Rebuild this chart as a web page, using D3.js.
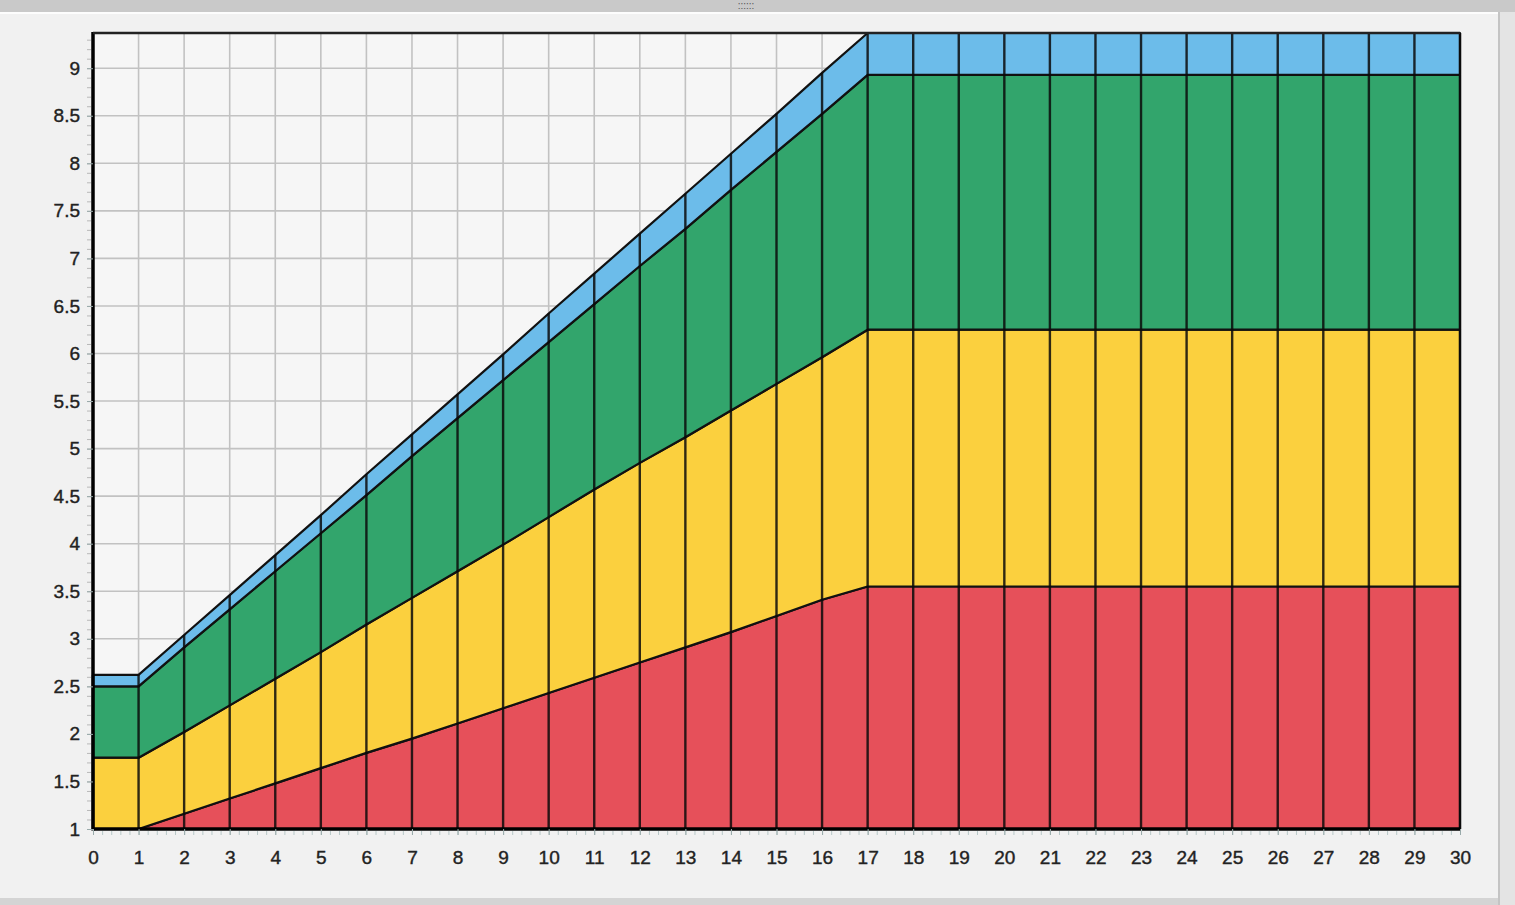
<!DOCTYPE html>
<html>
<head>
<meta charset="utf-8">
<script src="https://cdn.jsdelivr.net/npm/d3@7"></script>
<style>
  html, body { margin: 0; padding: 0; background: #f0f0f0; }
  svg { display: block; }
</style>
</head>
<body>
<div id="chart"></div>
<script>
// x positions 0..30
const xs = d3.range(0, 31);
const base = 1;

// layer thicknesses (x = 0..17, flat afterwards)
const red    = [0, 0, .16, .32, .48, .64, .80, .95, 1.11, 1.27, 1.43, 1.59, 1.75, 1.91, 2.07, 2.24, 2.41, 2.55,
                2.55, 2.55, 2.55, 2.55, 2.55, 2.55, 2.55, 2.55, 2.55, 2.55, 2.55, 2.55, 2.55];
const yellow = [.75, .75, .86, .98, 1.10, 1.22, 1.35, 1.48, 1.60, 1.72, 1.85, 1.98, 2.10, 2.21, 2.33, 2.44, 2.55, 2.70,
                2.70, 2.70, 2.70, 2.70, 2.70, 2.70, 2.70, 2.70, 2.70, 2.70, 2.70, 2.70, 2.70];
const green  = [.75, .75, .89, 1.01, 1.13, 1.25, 1.36, 1.49, 1.61, 1.73, 1.84, 1.95, 2.07, 2.19, 2.32, 2.44, 2.56, 2.68,
                2.68, 2.68, 2.68, 2.68, 2.68, 2.68, 2.68, 2.68, 2.68, 2.68, 2.68, 2.68, 2.68];
const blue   = [.12, .12, .13, .15, .17, .19, .22, .23, .25, .27, .30, .32, .34, .37, .38, .40, .43, .44,
                .44, .44, .44, .44, .44, .44, .44, .44, .44, .44, .44, .44, .44];

const keys = ["red", "yellow", "green", "blue"];
const colors = { red: "#e6505a", yellow: "#fbd03e", green: "#32a56c", blue: "#6cbcea" };
const yTicks = [1, 1.5, 2, 2.5, 3, 3.5, 4, 4.5, 5, 5.5, 6, 6.5, 7, 7.5, 8, 8.5, 9];

const table = xs.map((x, i) => ({ x, red: red[i], yellow: yellow[i], green: green[i], blue: blue[i] }));
const series = d3.stack().keys(keys)(table);

const width = 1515, height = 905;
const svg = d3.select("#chart").append("svg")
    .attr("width", width)
    .attr("height", height);

// window chrome
svg.append("rect").attr("x", 0).attr("y", 0).attr("width", width).attr("height", height).attr("fill", "#f1f1f1");
svg.append("rect").attr("x", 0).attr("y", 0).attr("width", width).attr("height", 12).attr("fill", "#c9c9c9");
svg.append("rect").attr("x", 0).attr("y", 12).attr("width", width).attr("height", 2).attr("fill", "#fdfdfd");
svg.append("text").attr("x", 746).attr("y", 9).attr("text-anchor", "middle")
    .style("font", "10px 'Liberation Sans', sans-serif").attr("fill", "#555").text("::::::");
svg.append("rect").attr("x", 1498).attr("y", 12).attr("width", 17).attr("height", height).attr("fill", "#e4e4e4");
svg.append("rect").attr("x", 1498).attr("y", 12).attr("width", 2).attr("height", height).attr("fill", "#c4c4c4");
svg.append("rect").attr("x", 0).attr("y", 898).attr("width", 1498).attr("height", 7).attr("fill", "#d4d4d4");

const x = d3.scaleLinear().domain([0, 30]).range([93, 1460]);
const y = d3.scaleLinear().domain([1, 9.37]).range([829, 33]);

// plot background
svg.append("rect")
    .attr("x", x(0)).attr("y", y(9.37))
    .attr("width", x(30) - x(0)).attr("height", y(1) - y(9.37))
    .attr("fill", "#f6f6f6");

// grid
const grid = svg.append("g")
    .attr("stroke", "#c2c2c2")
    .attr("stroke-width", 1.6);
grid.selectAll("line.v").data(xs).join("line").attr("class", "v")
    .attr("x1", d => x(d)).attr("x2", d => x(d))
    .attr("y1", y(9.37)).attr("y2", y(1));
grid.selectAll("line.h").data(yTicks).join("line").attr("class", "h")
    .attr("x1", x(0)).attr("x2", x(30))
    .attr("y1", d => y(d)).attr("y2", d => y(d));

// minor ticks
svg.append("g")
    .attr("transform", `translate(${x(0) - 2},0)`)
    .call(d3.axisLeft(y).tickValues(d3.range(1, 9.4, 0.1)).tickSize(4).tickFormat(""))
    .call(g => g.select(".domain").remove())
    .call(g => g.selectAll("line").attr("stroke", "#b8b8b8"));
svg.append("g")
    .attr("transform", `translate(0,${y(1) + 2})`)
    .call(d3.axisBottom(x).tickValues(d3.range(0, 30.01, 0.2)).tickSize(4).tickFormat(""))
    .call(g => g.select(".domain").remove())
    .call(g => g.selectAll("line").attr("stroke", "#b8c8c8"));

// stacked areas
const area = d3.area()
    .x(d => x(d.data.x))
    .y0(d => y(base + d[0]))
    .y1(d => y(base + d[1]));

svg.append("g")
    .selectAll("path")
    .data(series)
    .join("path")
    .attr("d", area)
    .attr("fill", d => colors[d.key])
    .attr("stroke", "#111")
    .attr("stroke-width", 2.2)
    .attr("stroke-linejoin", "round");

// vertical dividers
const topLayer = series[series.length - 1];
svg.append("g")
    .attr("stroke", "rgba(10,10,10,0.85)")
    .attr("stroke-width", 2.4)
    .selectAll("line")
    .data(topLayer)
    .join("line")
    .attr("x1", d => x(d.data.x)).attr("x2", d => x(d.data.x))
    .attr("y1", y(1)).attr("y2", d => y(base + d[1]));

// frame
svg.append("line").attr("x1", x(0)).attr("x2", x(0)).attr("y1", y(9.37) - 1).attr("y2", y(1) + 1.5)
    .attr("stroke", "#000").attr("stroke-width", 3.5);
svg.append("line").attr("x1", x(0)).attr("x2", x(30)).attr("y1", y(9.37)).attr("y2", y(9.37))
    .attr("stroke", "#222").attr("stroke-width", 2.5);
svg.append("line").attr("x1", x(0)).attr("x2", x(30)).attr("y1", y(1)).attr("y2", y(1))
    .attr("stroke", "#000").attr("stroke-width", 3.5);

// tick labels
const font = "19px 'Liberation Sans', Arial, sans-serif";
svg.append("g")
    .attr("transform", `translate(${x(0) - 4},0)`)
    .call(d3.axisLeft(y).tickValues(yTicks).tickSize(6).tickPadding(3).tickFormat(d3.format("")))
    .call(g => g.select(".domain").remove())
    .call(g => g.selectAll("line").attr("stroke", "#9aa").attr("transform", "translate(4,0)"))
    .call(g => g.selectAll("text").style("font", font).attr("fill", "#222")
        .attr("stroke", "#222").attr("stroke-width", 0.4));
svg.append("g")
    .attr("transform", `translate(0,${y(1) + 6})`)
    .call(d3.axisBottom(x).tickValues(xs).tickSize(6).tickPadding(10).tickFormat(d3.format("d")))
    .call(g => g.select(".domain").remove())
    .call(g => g.selectAll("line").attr("stroke", "#9aa").attr("transform", "translate(0,-6)"))
    .call(g => g.selectAll("text").style("font", font).attr("fill", "#222")
        .attr("stroke", "#222").attr("stroke-width", 0.4));
</script>
</body>
</html>
